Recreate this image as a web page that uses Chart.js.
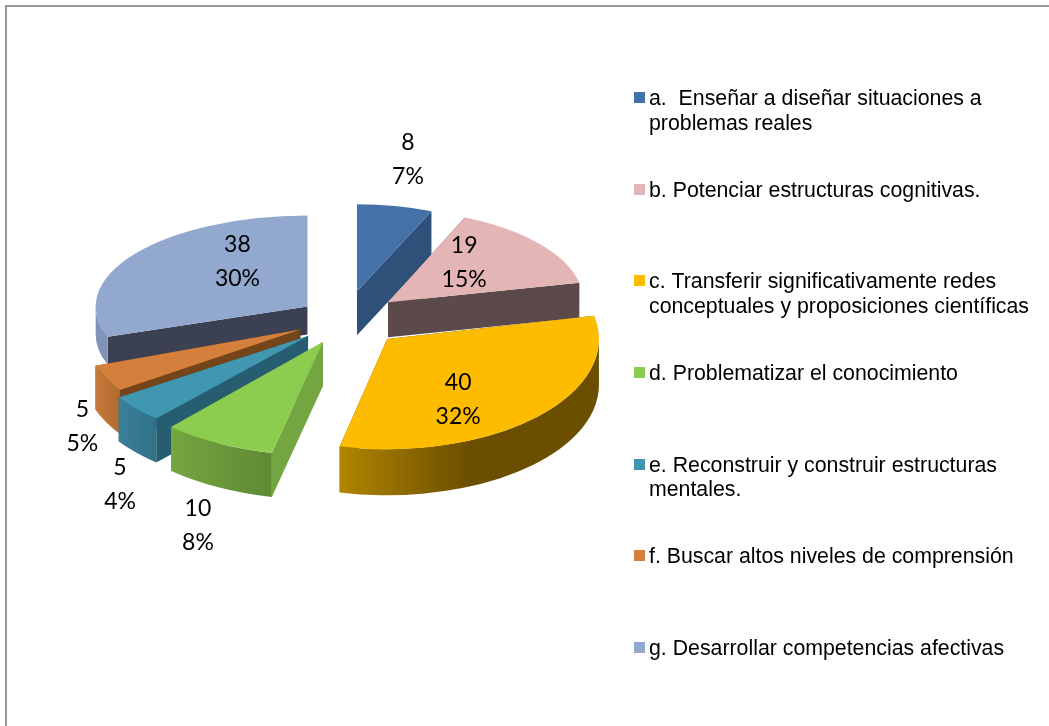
<!DOCTYPE html>
<html><head><meta charset="utf-8">
<style>html,body{margin:0;padding:0;background:#fff}canvas{display:block}</style>
<script src="https://cdn.jsdelivr.net/npm/chart.js@4"></script>
</head><body><canvas id="c" width="1049" height="726"></canvas>
<script>
const categories = [
  ['a.  Enseñar a diseñar situaciones a','problemas reales'],
  ['b. Potenciar estructuras cognitivas.'],
  ['c. Transferir significativamente redes','conceptuales y proposiciones científicas'],
  ['d. Problematizar el conocimiento'],
  ['e. Reconstruir y construir estructuras','mentales.'],
  ['f. Buscar altos niveles de comprensión'],
  ['g. Desarrollar competencias afectivas']
];
const values = [8,19,40,10,5,5,38];
const percents = ['7%','15%','32%','8%','4%','5%','30%'];
const topColors = ['#4472a8','#e3b6b5','#fdbc00','#8ccd4f','#4197b0','#d57f3c','#92a8cf'];
const faceColors = ['#2f5078','#5c4a4a','#6b4e00','#73a540','#275d70','#74441a','#3b4152'];
const rimColors = [['#2f5078','#2f5078'],['#5c4a4a','#5c4a4a'],['#b08500','#6b4e00'],['#74a640','#5f8a33'],['#3a8098','#2f7288'],['#c47a3a','#b06a2f'],['#8094b8','#8094b8']];
const explode = [60,56,60,48,49,50,46];
const radiusScale = [0.885,0.91,0.985,1.06,1.06,1.01,0.985];
const depth = [44,35,46,44,44,44,28];
const tilt = [0.458,0.47,0.52,0.5,0.485,0.5,0.43];
const tipTilt = [0.47,0.47,0.47,0.54,0.53,0.47,0.47];
const labelShift = [[51,-134],[76,-42],[71,59],[-125,182],[-188,147],[-218,95],[-70,-47]];
const paintOrder = [0,1,6,5,4,3,2];
const baseRadius = 215;

function tipOf(arc,i){
  const m=(arc.startAngle+arc.endAngle)/2;
  return {x:arc.x+Math.cos(m)*explode[i], y:arc.y+Math.sin(m)*explode[i]*tipTilt[i]};
}
const pie3d = {
  id:'pie3d',
  beforeDatasetDraw(chart,args){
    const ctx=chart.ctx, arcs=args.meta.data;
    paintOrder.forEach(i=>{
      const arc=arcs[i]; arc.outerRadius=baseRadius*radiusScale[i];
      const R=arc.outerRadius, t=tipOf(arc,i), d=depth[i], ry=R*tilt[i];
      const px=a=>t.x+Math.cos(a)*R, py=a=>t.y+Math.sin(a)*ry;
      // radial walls
      ctx.fillStyle=faceColors[i];
      [arc.startAngle,arc.endAngle].forEach(a=>{
        ctx.beginPath();ctx.moveTo(t.x,t.y);ctx.lineTo(px(a),py(a));ctx.lineTo(px(a),py(a)+d);ctx.lineTo(t.x,t.y+d);ctx.closePath();ctx.fill();
      });
      // outer wall (front half only)
      const a0=Math.max(arc.startAngle,0), a1=Math.min(arc.endAngle,Math.PI);
      if(a1>a0){
        let minX=Infinity,maxX=-Infinity;
        for(let s=0;s<=40;s++){const x=px(a0+(a1-a0)*s/40);minX=Math.min(minX,x);maxX=Math.max(maxX,x);}
        const g=ctx.createLinearGradient(minX,0,maxX,0);
        g.addColorStop(0,rimColors[i][0]);
        if(i===2)g.addColorStop(0.5,rimColors[i][1]);
        g.addColorStop(1,rimColors[i][1]);
        ctx.fillStyle=g;
        ctx.beginPath();
        ctx.ellipse(t.x,t.y,R,ry,0,a0,a1);
        ctx.ellipse(t.x,t.y+d,R,ry,0,a1,a0,true);
        ctx.closePath();ctx.fill();
      }
      // top face: the library's own arc element
      ctx.save();
      ctx.translate(t.x,t.y);ctx.scale(1,tilt[i]);ctx.translate(-arc.x,-arc.y);
      arc.draw(ctx);
      ctx.restore();
    });
    return false;
  },
  afterDraw(chart){
    const ctx=chart.ctx, arcs=chart.getDatasetMeta(0).data;
    // frame
    ctx.save();
    ctx.strokeStyle='#969696';ctx.lineWidth=2;
    ctx.beginPath();ctx.moveTo(6,726);ctx.lineTo(6,6);ctx.lineTo(1049,6);ctx.stroke();
    // data labels
    ctx.fillStyle='#000';ctx.textAlign='center';ctx.textBaseline='middle';
    ctx.font='23px Lato';
    arcs.forEach((arc,i)=>{
      const t=tipOf(arc,i), x=t.x+labelShift[i][0], y=t.y+labelShift[i][1];
      ctx.fillText(String(values[i]),x,y-15);
      ctx.fillText(percents[i],x,y+19);
    });
    // legend
    ctx.textAlign='left';ctx.textBaseline='alphabetic';
    ctx.font='21.3px "Liberation Sans"';
    categories.forEach((lines,i)=>{
      const b=105+91.67*i;
      ctx.fillStyle=topColors[i];ctx.fillRect(634,Math.round(b-13),11,11);
      ctx.fillStyle='#000';
      lines.forEach((s,j)=>ctx.fillText(s,649,b+j*24.7));
    });
    ctx.restore();
  }
};
new Chart(document.getElementById('c'),{
  type:'pie',
  data:{labels:categories.map(c=>c.join(' ')),datasets:[{data:values,backgroundColor:topColors,borderWidth:0,radius:baseRadius,clip:false}]},
  options:{responsive:false,animation:false,events:[],
    layout:{padding:{left:0,right:359,top:0,bottom:88}},
    plugins:{legend:{display:false},tooltip:{enabled:false}}},
  plugins:[pie3d]
});
</script></body></html>
